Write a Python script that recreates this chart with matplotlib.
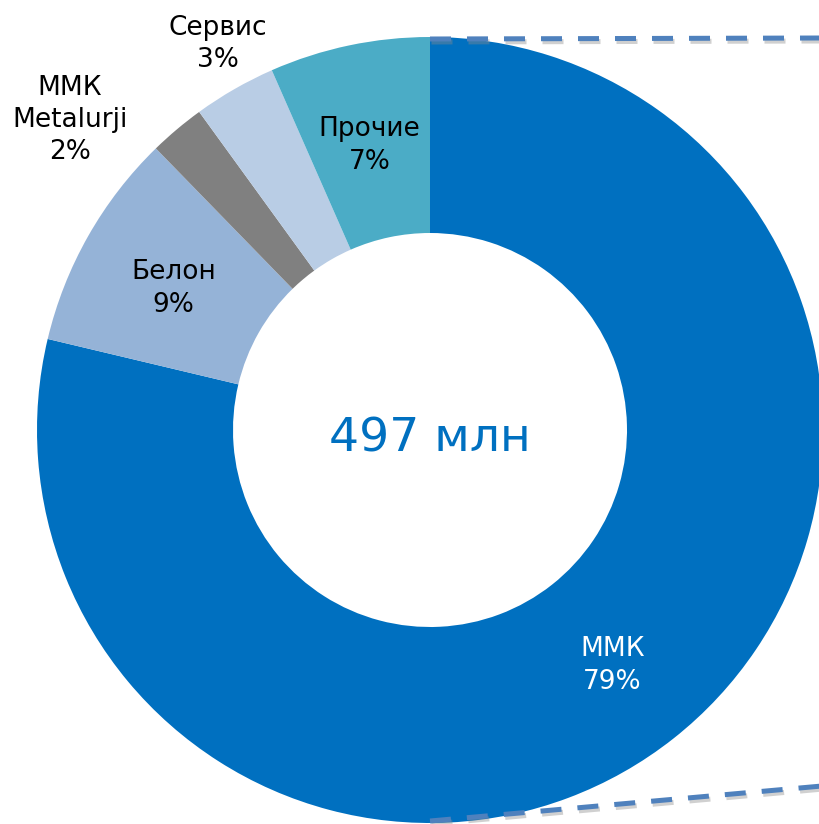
import matplotlib.pyplot as plt
import numpy as np

# revenue split, clockwise from 12 o'clock
names = ["ММК", "Белон", "ММК\nMetalurji", "Сервис", "Прочие"]
shares = [78.8, 9.0, 2.3, 3.4, 6.6]
colors = ["#0070C0", "#95B3D7", "#808080", "#B9CDE5", "#4BACC6"]
total_text = "497 млн"

plt.rcParams['font.family'] = ['DejaVu Sans']

fig = plt.figure(figsize=(8.2, 8.24), dpi=100)
ax = fig.add_axes([0, 0, 1, 1])

cx, cy, R = 430, 394, 393
wedges, _ = ax.pie(shares, colors=colors, startangle=90, counterclock=False,
                   center=(cx, cy), radius=R, frame=True,
                   wedgeprops=dict(width=196, edgecolor='none'))

# labels: inside ones at 0.75R, outside ones placed by hand
outside = {"ММК\nMetalurji": (70, 824 - 120), "Сервис": (218, 824 - 44)}
for w, name, val in zip(wedges, names, shares):
    txt = f"{name}\n{round(val):.0f}%"
    if name in outside:
        x, y = outside[name]
    else:
        ang = np.deg2rad((w.theta1 + w.theta2) / 2)
        x = cx + 0.75 * R * np.cos(ang)
        y = cy + 0.75 * R * np.sin(ang) - 4
    c = 'white' if name == "ММК" else 'black'
    ax.text(x, y, txt, ha='center', va='center', fontsize=19,
            color=c, linespacing=1.32)

ax.text(cx, cy - 9, total_text, ha='center', va='center', fontsize=34,
        color='#0070C0')

# dashed connectors to the right
dash = (0, (4.2, 3.2))
for (x0, y0, x1, y1) in [(430, 824 - 39, 822, 824 - 38), (430, 824 - 821, 822, 824 - 786)]:
    ax.plot([x0 + 1.5, x1 + 1.5], [y0 - 3, y1 - 3], color='#8a8a8a', lw=3.6,
            linestyle=dash, alpha=0.4)
    ax.plot([x0, x1], [y0, y1], color='#4F81BD', lw=3.6, linestyle=dash)

ax.set_xlim(0, 820)
ax.set_ylim(0, 824)
ax.set_aspect('equal')
ax.axis('off')

fig.savefig("out.png", dpi=100, facecolor='white')
